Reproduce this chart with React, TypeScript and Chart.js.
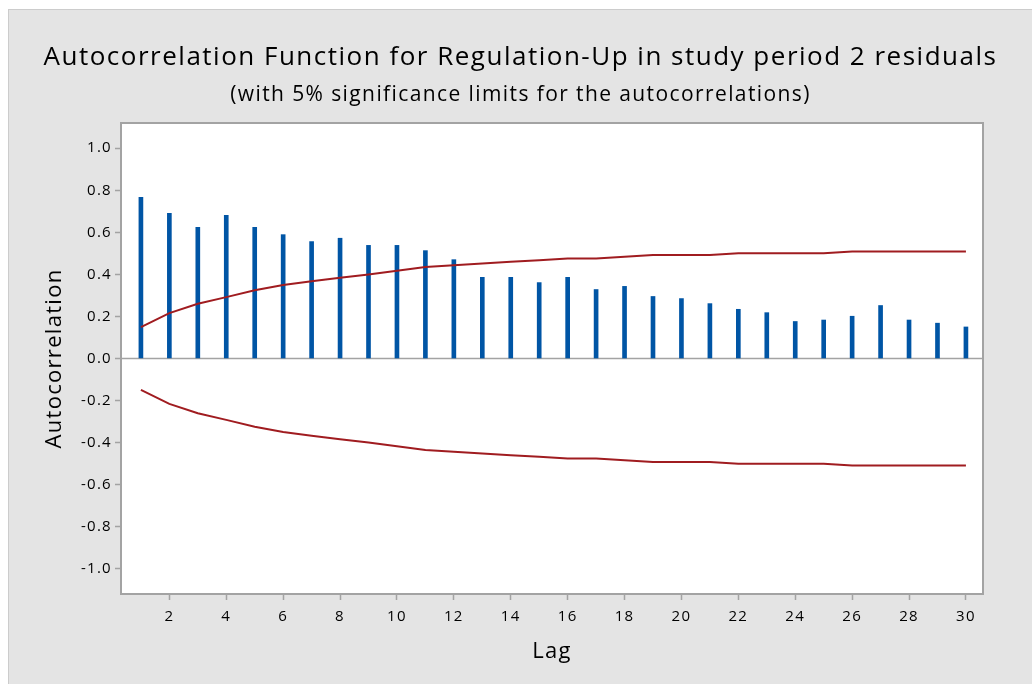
import React, { useEffect, useRef } from "react";
import { Chart, registerables } from "chart.js";

Chart.register(...registerables);

const titleText = "Autocorrelation Function for Regulation-Up in study period 2 residuals";
const subtitleText = "(with 5% significance limits for the autocorrelations)";
const xTitle = "Lag";
const yTitle = "Autocorrelation";

const lags = [1, 2, 3, 4, 5, 6, 7, 8, 9, 10, 11, 12, 13, 14, 15, 16, 17, 18, 19, 20, 21, 22, 23, 24, 25, 26, 27, 28, 29, 30];
const acf = [0.766, 0.69, 0.624, 0.681, 0.624, 0.589, 0.556, 0.572, 0.538, 0.538, 0.513, 0.47, 0.386, 0.386, 0.361, 0.386, 0.328, 0.343, 0.295, 0.285, 0.261, 0.234, 0.218, 0.176, 0.183, 0.201, 0.252, 0.183, 0.168, 0.15];
const upperLimit = [0.149, 0.216, 0.26, 0.292, 0.325, 0.35, 0.367, 0.384, 0.4, 0.417, 0.435, 0.444, 0.452, 0.46, 0.467, 0.476, 0.476, 0.484, 0.492, 0.492, 0.492, 0.5, 0.5, 0.5, 0.5, 0.509, 0.509, 0.509, 0.509, 0.509];
const lowerLimit = [-0.149, -0.216, -0.26, -0.292, -0.325, -0.35, -0.367, -0.384, -0.4, -0.417, -0.435, -0.444, -0.452, -0.46, -0.467, -0.476, -0.476, -0.484, -0.492, -0.492, -0.492, -0.5, -0.5, -0.5, -0.5, -0.509, -0.509, -0.509, -0.509, -0.509];
const xTicks = [2, 4, 6, 8, 10, 12, 14, 16, 18, 20, 22, 24, 26, 28, 30];
const yTicks = [-1.0, -0.8, -0.6, -0.4, -0.2, 0.0, 0.2, 0.4, 0.6, 0.8, 1.0];

const FONT = "'Open Sans', 'Noto Sans', sans-serif";
const AXIS_GRAY = "#a3a3a3";
const BAR_BLUE = "#0055a5";
const LIMIT_RED = "#a01c20";

const framePlugin = {
  id: "frame",
  beforeDraw(chart: any) {
    const { ctx, chartArea } = chart;
    ctx.save();
    ctx.fillStyle = "#ffffff";
    ctx.fillRect(chartArea.left, chartArea.top, chartArea.right - chartArea.left, chartArea.bottom - chartArea.top);
    ctx.restore();
    // spacing for axis text drawn by the scales
    ctx.letterSpacing = "1.3px";
  },
  beforeDatasetsDraw(chart: any) {
    const { ctx, chartArea, scales } = chart;
    const y0 = scales.y.getPixelForValue(0);
    ctx.save();
    ctx.strokeStyle = AXIS_GRAY;
    ctx.lineWidth = 1.5;
    ctx.beginPath();
    ctx.moveTo(chartArea.left, y0);
    ctx.lineTo(chartArea.right, y0);
    ctx.stroke();
    ctx.restore();
  },
  afterDraw(chart: any) {
    const { ctx, chartArea } = chart;
    ctx.save();
    ctx.strokeStyle = AXIS_GRAY;
    ctx.lineWidth = 2;
    ctx.strokeRect(chartArea.left, chartArea.top, chartArea.right - chartArea.left, chartArea.bottom - chartArea.top);
    ctx.restore();

    ctx.save();
    ctx.fillStyle = "#000";
    ctx.textAlign = "center";
    ctx.textBaseline = "alphabetic";
    ctx.letterSpacing = "1.5px";
    ctx.font = `26px ${FONT}`;
    ctx.fillText(titleText, chart.width / 2, 55);
    ctx.letterSpacing = "1.4px";
    ctx.font = `21px ${FONT}`;
    ctx.fillText(subtitleText, chart.width / 2, 90.5);
    ctx.restore();
    ctx.letterSpacing = "0px";
  },
};

export default function App() {
  const canvasRef = useRef<HTMLCanvasElement | null>(null);

  useEffect(() => {
    if (!canvasRef.current) return;
    const chart = new Chart(canvasRef.current, {
      type: "bar",
      data: {
        datasets: [
          {
            type: "line",
            label: "Upper limit",
            data: lags.map((l, i) => ({ x: l, y: upperLimit[i] })),
            borderColor: LIMIT_RED,
            borderWidth: 2,
            pointRadius: 0,
            tension: 0,
            fill: false,
          },
          {
            type: "line",
            label: "Lower limit",
            data: lags.map((l, i) => ({ x: l, y: lowerLimit[i] })),
            borderColor: LIMIT_RED,
            borderWidth: 2,
            pointRadius: 0,
            tension: 0,
            fill: false,
          },
          {
            type: "bar",
            label: "ACF",
            data: lags.map((l, i) => ({ x: l, y: acf[i] })),
            backgroundColor: BAR_BLUE,
            barThickness: 4,
            borderWidth: 0,
          },
        ] as any,
      },
      options: {
        responsive: false,
        animation: false,
        devicePixelRatio: 1,
        layout: { padding: { left: 0, right: 49, top: 113, bottom: 0 } },
        font: { family: FONT },
        plugins: {
          legend: { display: false },
          tooltip: { enabled: false },
          title: { display: false },
          subtitle: { display: false },
        },
        scales: {
          x: {
            type: "linear",
            min: 0.3,
            max: 30.6,
            offset: false,
            afterFit(scale: any) {
              scale.height = 90;
            },
            afterBuildTicks(scale: any) {
              scale.ticks = xTicks.map((v) => ({ value: v }));
            },
            ticks: {
              color: "#000",
              font: { family: FONT, size: 15 },
              padding: 8,
              autoSkip: false,
              maxRotation: 0,
              callback: (v: any) => String(v),
            },
            grid: {
              offset: false,
              drawOnChartArea: false,
              drawTicks: true,
              tickLength: 6,
              tickColor: AXIS_GRAY,
              tickWidth: 1.5,
            },
            border: { display: false },
            title: {
              display: true,
              text: xTitle,
              color: "#000",
              font: { family: FONT, size: 22, lineHeight: 1.2 },
              padding: { top: 0, bottom: 19 },
            },
          },
          y: {
            type: "linear",
            min: -1.12,
            max: 1.12,
            afterFit(scale: any) {
              scale.width = 112;
            },
            afterBuildTicks(scale: any) {
              scale.ticks = yTicks.map((v) => ({ value: v }));
            },
            ticks: {
              color: "#000",
              font: { family: FONT, size: 15 },
              padding: 3,
              callback: (v: any) => Number(v).toFixed(1),
            },
            grid: {
              offset: false,
              drawOnChartArea: false,
              drawTicks: true,
              tickLength: 6,
              tickColor: AXIS_GRAY,
              tickWidth: 1.5,
            },
            border: { display: false },
            title: {
              display: true,
              text: yTitle,
              color: "#000",
              font: { family: FONT, size: 22, lineHeight: 1.2 },
              padding: { top: 33, bottom: 0 },
            },
          },
        },
      } as any,
      plugins: [framePlugin],
    });
    return () => chart.destroy();
  }, []);

  return (
    <div
      style={{
        position: "fixed",
        left: 8,
        top: 9,
        right: 0,
        bottom: 0,
        background: "#e4e4e4",
        borderTop: "1px solid #cccccc",
        borderLeft: "1px solid #cccccc",
        overflow: "hidden",
      }}
    >
      <canvas ref={canvasRef} width={1023} height={674} style={{ display: "block" }} />
    </div>
  );
}
